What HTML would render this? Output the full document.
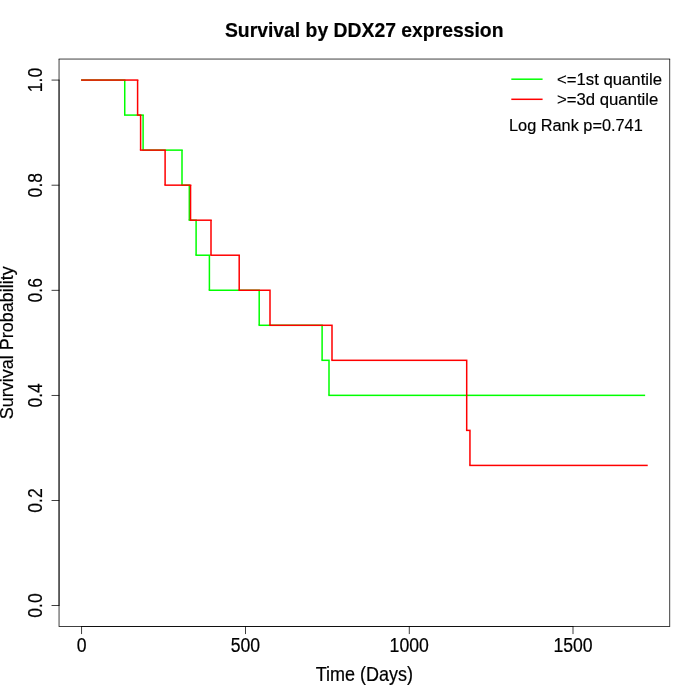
<!DOCTYPE html>
<html lang="en"><head><meta charset="utf-8"><title>Survival by DDX27 expression</title>
<style>html,body{margin:0;padding:0;background:#fff;overflow:hidden}svg{display:block}text{font-family:"Liberation Sans",sans-serif;fill:#000;stroke:#000;stroke-width:0.18px;stroke-linejoin:round}</style></head><body>
<svg width="700" height="700" viewBox="0 0 700 700">
<rect width="700" height="700" fill="#fff"/>
<!-- survival curves -->
<g fill="#0f0"><rect x="81.069" y="79" width="44.421" height="1" fill-opacity="0.691"/><rect x="81.069" y="80" width="44.421" height="1" fill-opacity="0.809"/><rect x="123.99" y="80" width="1.5" height="35"/><rect x="123.99" y="114" width="19.86" height="1" fill-opacity="0.659"/><rect x="123.99" y="115" width="19.86" height="1" fill-opacity="0.841"/><rect x="142.35" y="115" width="1.5" height="35"/><rect x="142.35" y="149" width="40.4" height="1" fill-opacity="0.627"/><rect x="142.35" y="150" width="40.4" height="1" fill-opacity="0.873"/><rect x="181.25" y="150" width="1.5" height="35"/><rect x="181.25" y="184" width="8.8" height="1" fill-opacity="0.594"/><rect x="181.25" y="185" width="8.8" height="1" fill-opacity="0.906"/><rect x="188.55" y="185" width="1.5" height="35"/><rect x="188.55" y="219" width="8.3" height="1" fill-opacity="0.562"/><rect x="188.55" y="220" width="8.3" height="1" fill-opacity="0.938"/><rect x="195.35" y="220" width="1.5" height="35"/><rect x="195.35" y="254" width="14.8" height="1" fill-opacity="0.53"/><rect x="195.35" y="255" width="14.8" height="1" fill-opacity="0.97"/><rect x="208.65" y="255" width="1.5" height="35"/><rect x="208.65" y="289" width="51.3" height="1" fill-opacity="0.498"/><rect x="208.65" y="290" width="51.3" height="1"/><rect x="258.45" y="291" width="1.5" height="34"/><rect x="258.45" y="324" width="64.4" height="1" fill-opacity="0.466"/><rect x="258.45" y="325" width="64.4" height="1"/><rect x="258.45" y="326" width="64.4" height="1" fill-opacity="0.034"/><rect x="321.35" y="326" width="1.5" height="34"/><rect x="321.35" y="359" width="8.4" height="1" fill-opacity="0.434"/><rect x="321.35" y="360" width="8.4" height="1"/><rect x="321.35" y="361" width="8.4" height="1" fill-opacity="0.066"/><rect x="328.25" y="361" width="1.5" height="34"/><rect x="328.25" y="394" width="316.89" height="1" fill-opacity="0.402"/><rect x="328.25" y="395" width="316.89" height="1"/><rect x="328.25" y="396" width="316.89" height="1" fill-opacity="0.098"/></g>
<g fill="#f00"><rect x="81.069" y="79" width="57.281" height="1" fill-opacity="0.691"/><rect x="81.069" y="80" width="57.281" height="1" fill-opacity="0.809"/><rect x="136.85" y="80" width="1.5" height="35"/><rect x="136.85" y="114" width="4.5" height="1" fill-opacity="0.659"/><rect x="136.85" y="115" width="4.5" height="1" fill-opacity="0.841"/><rect x="139.85" y="115" width="1.5" height="35"/><rect x="139.85" y="149" width="26" height="1" fill-opacity="0.627"/><rect x="139.85" y="150" width="26" height="1" fill-opacity="0.873"/><rect x="164.35" y="150" width="1.5" height="35"/><rect x="164.35" y="184" width="26.95" height="1" fill-opacity="0.594"/><rect x="164.35" y="185" width="26.95" height="1" fill-opacity="0.906"/><rect x="189.8" y="185" width="1.5" height="35"/><rect x="189.8" y="219" width="21.95" height="1" fill-opacity="0.562"/><rect x="189.8" y="220" width="21.95" height="1" fill-opacity="0.938"/><rect x="210.25" y="220" width="1.5" height="35"/><rect x="210.25" y="254" width="29.7" height="1" fill-opacity="0.53"/><rect x="210.25" y="255" width="29.7" height="1" fill-opacity="0.97"/><rect x="238.45" y="255" width="1.5" height="35"/><rect x="238.45" y="289" width="32.3" height="1" fill-opacity="0.498"/><rect x="238.45" y="290" width="32.3" height="1"/><rect x="269.25" y="291" width="1.5" height="34"/><rect x="269.25" y="324" width="63.5" height="1" fill-opacity="0.466"/><rect x="269.25" y="325" width="63.5" height="1"/><rect x="269.25" y="326" width="63.5" height="1" fill-opacity="0.034"/><rect x="331.25" y="326" width="1.5" height="34"/><rect x="331.25" y="359" width="136.2" height="1" fill-opacity="0.434"/><rect x="331.25" y="360" width="136.2" height="1"/><rect x="331.25" y="361" width="136.2" height="1" fill-opacity="0.066"/><rect x="465.95" y="361" width="1.5" height="69"/><rect x="465.95" y="429" width="4.75" height="1" fill-opacity="0.37"/><rect x="465.95" y="430" width="4.75" height="1"/><rect x="465.95" y="431" width="4.75" height="1" fill-opacity="0.13"/><rect x="469.2" y="431" width="1.5" height="34"/><rect x="469.2" y="464" width="178.53" height="1" fill-opacity="0.338"/><rect x="469.2" y="465" width="178.53" height="1"/><rect x="469.2" y="466" width="178.53" height="1" fill-opacity="0.162"/></g>
<!-- axes -->
<g fill="#000">
<rect x="81.359" y="626" width="491.941" height="1" fill-opacity="0.75"/>
<rect x="81.284" y="626" width="0.75" height="8.06"/>
<rect x="245.065" y="626" width="0.75" height="8.06"/>
<rect x="408.845" y="626" width="0.75" height="8.06"/>
<rect x="572.625" y="626" width="0.75" height="8.06"/>
<rect x="58.665" y="79.759" width="0.75" height="526.081"/>
<rect x="51.54" y="605" width="7.8" height="1" fill-opacity="0.75"/>
<rect x="51.54" y="500" width="7.8" height="1" fill-opacity="0.75"/>
<rect x="51.54" y="394" width="7.8" height="1" fill-opacity="0.027"/><rect x="51.54" y="395" width="7.8" height="1" fill-opacity="0.723"/>
<rect x="51.54" y="289" width="7.8" height="1" fill-opacity="0.123"/><rect x="51.54" y="290" width="7.8" height="1" fill-opacity="0.627"/>
<rect x="51.54" y="184" width="7.8" height="1" fill-opacity="0.219"/><rect x="51.54" y="185" width="7.8" height="1" fill-opacity="0.531"/>
<rect x="51.54" y="79" width="7.8" height="1" fill-opacity="0.316"/><rect x="51.54" y="80" width="7.8" height="1" fill-opacity="0.434"/>
</g>
<!-- box -->
<g fill="#000">
<rect x="58.665" y="58" width="611.47" height="1" fill-opacity="0.335"/><rect x="58.665" y="59" width="611.47" height="1" fill-opacity="0.415"/>
<rect x="58.665" y="626" width="611.47" height="1" fill-opacity="0.75"/>
<rect x="58.665" y="59" width="0.75" height="567.185"/>
<rect x="669.385" y="59" width="0.75" height="567.185"/>
</g>
<!-- legend -->
<g fill="#0f0"><rect x="511.31" y="78" width="31.28" height="1" fill-opacity="0.55"/><rect x="511.31" y="79" width="31.28" height="1" fill-opacity="0.95"/></g>
<g fill="#f00"><rect x="511.31" y="98" width="31.28" height="1" fill-opacity="0.45"/><rect x="511.31" y="99" width="31.28" height="1"/><rect x="511.31" y="100" width="31.28" height="1" fill-opacity="0.05"/></g>
<text transform="translate(364.2 36.9) scale(1.008 1.075)" font-size="19.2" font-weight="bold" text-anchor="middle">Survival by DDX27 expression</text>
<text transform="translate(364.4 681) scale(1 1.08)" font-size="18" text-anchor="middle">Time (Days)</text>
<text transform="translate(13 342.8) rotate(-90) scale(1 1.06)" font-size="18" text-anchor="middle">Survival Probability</text>
<text transform="translate(81.659 651.75) scale(0.98 1.09)" font-size="18" text-anchor="middle">0</text>
<text transform="translate(245.44 651.75) scale(0.98 1.09)" font-size="18" text-anchor="middle">500</text>
<text transform="translate(409.22 651.75) scale(0.98 1.09)" font-size="18" text-anchor="middle">1000</text>
<text transform="translate(573 651.75) scale(0.98 1.09)" font-size="18" text-anchor="middle">1500</text>
<text transform="translate(41.8 605.541) rotate(-90) scale(0.98 1.09)" font-size="18" text-anchor="middle">0.0</text>
<text transform="translate(41.8 500.444) rotate(-90) scale(0.98 1.09)" font-size="18" text-anchor="middle">0.2</text>
<text transform="translate(41.8 395.348) rotate(-90) scale(0.98 1.09)" font-size="18" text-anchor="middle">0.4</text>
<text transform="translate(41.8 290.252) rotate(-90) scale(0.98 1.09)" font-size="18" text-anchor="middle">0.6</text>
<text transform="translate(41.8 185.156) rotate(-90) scale(0.98 1.09)" font-size="18" text-anchor="middle">0.8</text>
<text transform="translate(41.8 80.059) rotate(-90) scale(0.98 1.09)" font-size="18" text-anchor="middle">1.0</text>
<text transform="translate(557 85.2) scale(0.996 0.98)" font-size="16.8">&lt;=1st quantile</text>
<text transform="translate(557 105.4) scale(0.996 0.98)" font-size="16.8">&gt;=3d quantile</text>
<text transform="translate(509 131) scale(0.972 1)" font-size="16.8">Log Rank p=0.741</text>
</svg></body></html>
